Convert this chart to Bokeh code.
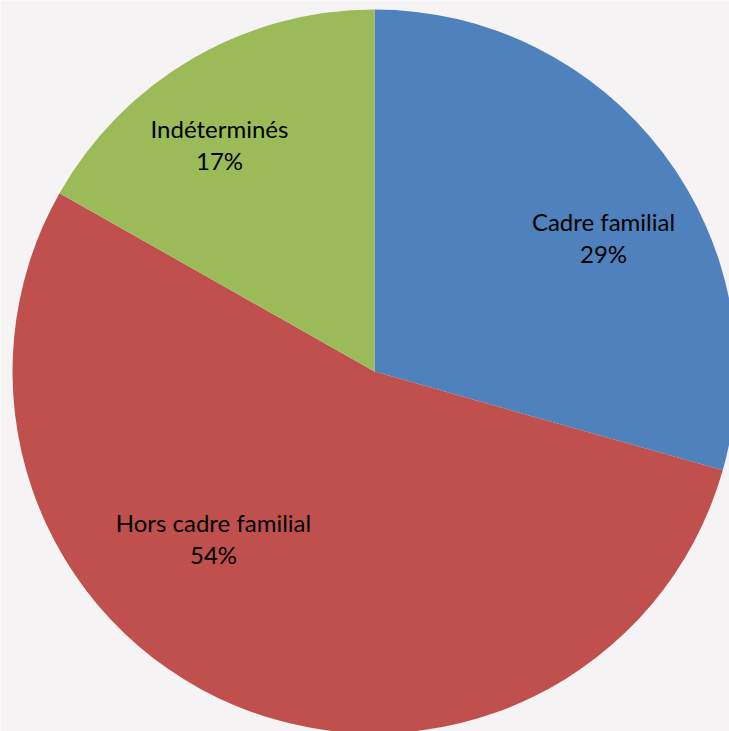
import math
from bokeh.plotting import figure
from bokeh.models import Range1d, ColumnDataSource
from bokeh.core.properties import value
from bokeh.embed import file_html
from bokeh.resources import INLINE

categories = ["Cadre familial", "Hors cadre familial", "Indéterminés"]
shares = [29.4, 53.8, 16.8]
colors = ["#4F81BD", "#C0504D", "#9BBB59"]

# label anchor offsets from pie centre (pixels, y up)
label_dx = [229, -161, -155]
label_dy = [134, -167, 227]

R = 362
total = sum(shares)
starts, ends = [], []
a = math.pi / 2
for s in shares:
    starts.append(a)
    a -= s / total * 2 * math.pi
    ends.append(a)

W, H = 729, 731
cx_page, cy_page = 374, 371
p = figure(width=W, height=H, output_backend="svg", toolbar_location=None,
           x_range=Range1d(-cx_page, W - cx_page),
           y_range=Range1d(cy_page - H, cy_page),
           min_border=0, background_fill_color="#F5F3F4",
           border_fill_color="#F5F3F4")
p.axis.visible = False
p.grid.visible = False
p.outline_line_color = None

src = ColumnDataSource(dict(x=[0] * 3, y=[0] * 3, start=starts, end=ends, color=colors))
p.wedge(x="x", y="y", radius=R, start_angle="start", end_angle="end",
        direction="clock", fill_color="color", line_color=None, source=src)

texts = [f"{c}\n{round(s)}%" for c, s in zip(categories, shares)]
p.text(x=label_dx, y=label_dy, text=texts, text_align="center", text_baseline="middle",
       text_font=value("Lato"), text_font_size="24px", text_color="#000000",
       text_line_height=1.1)

open("out.html", "w").write(file_html(p, INLINE))
